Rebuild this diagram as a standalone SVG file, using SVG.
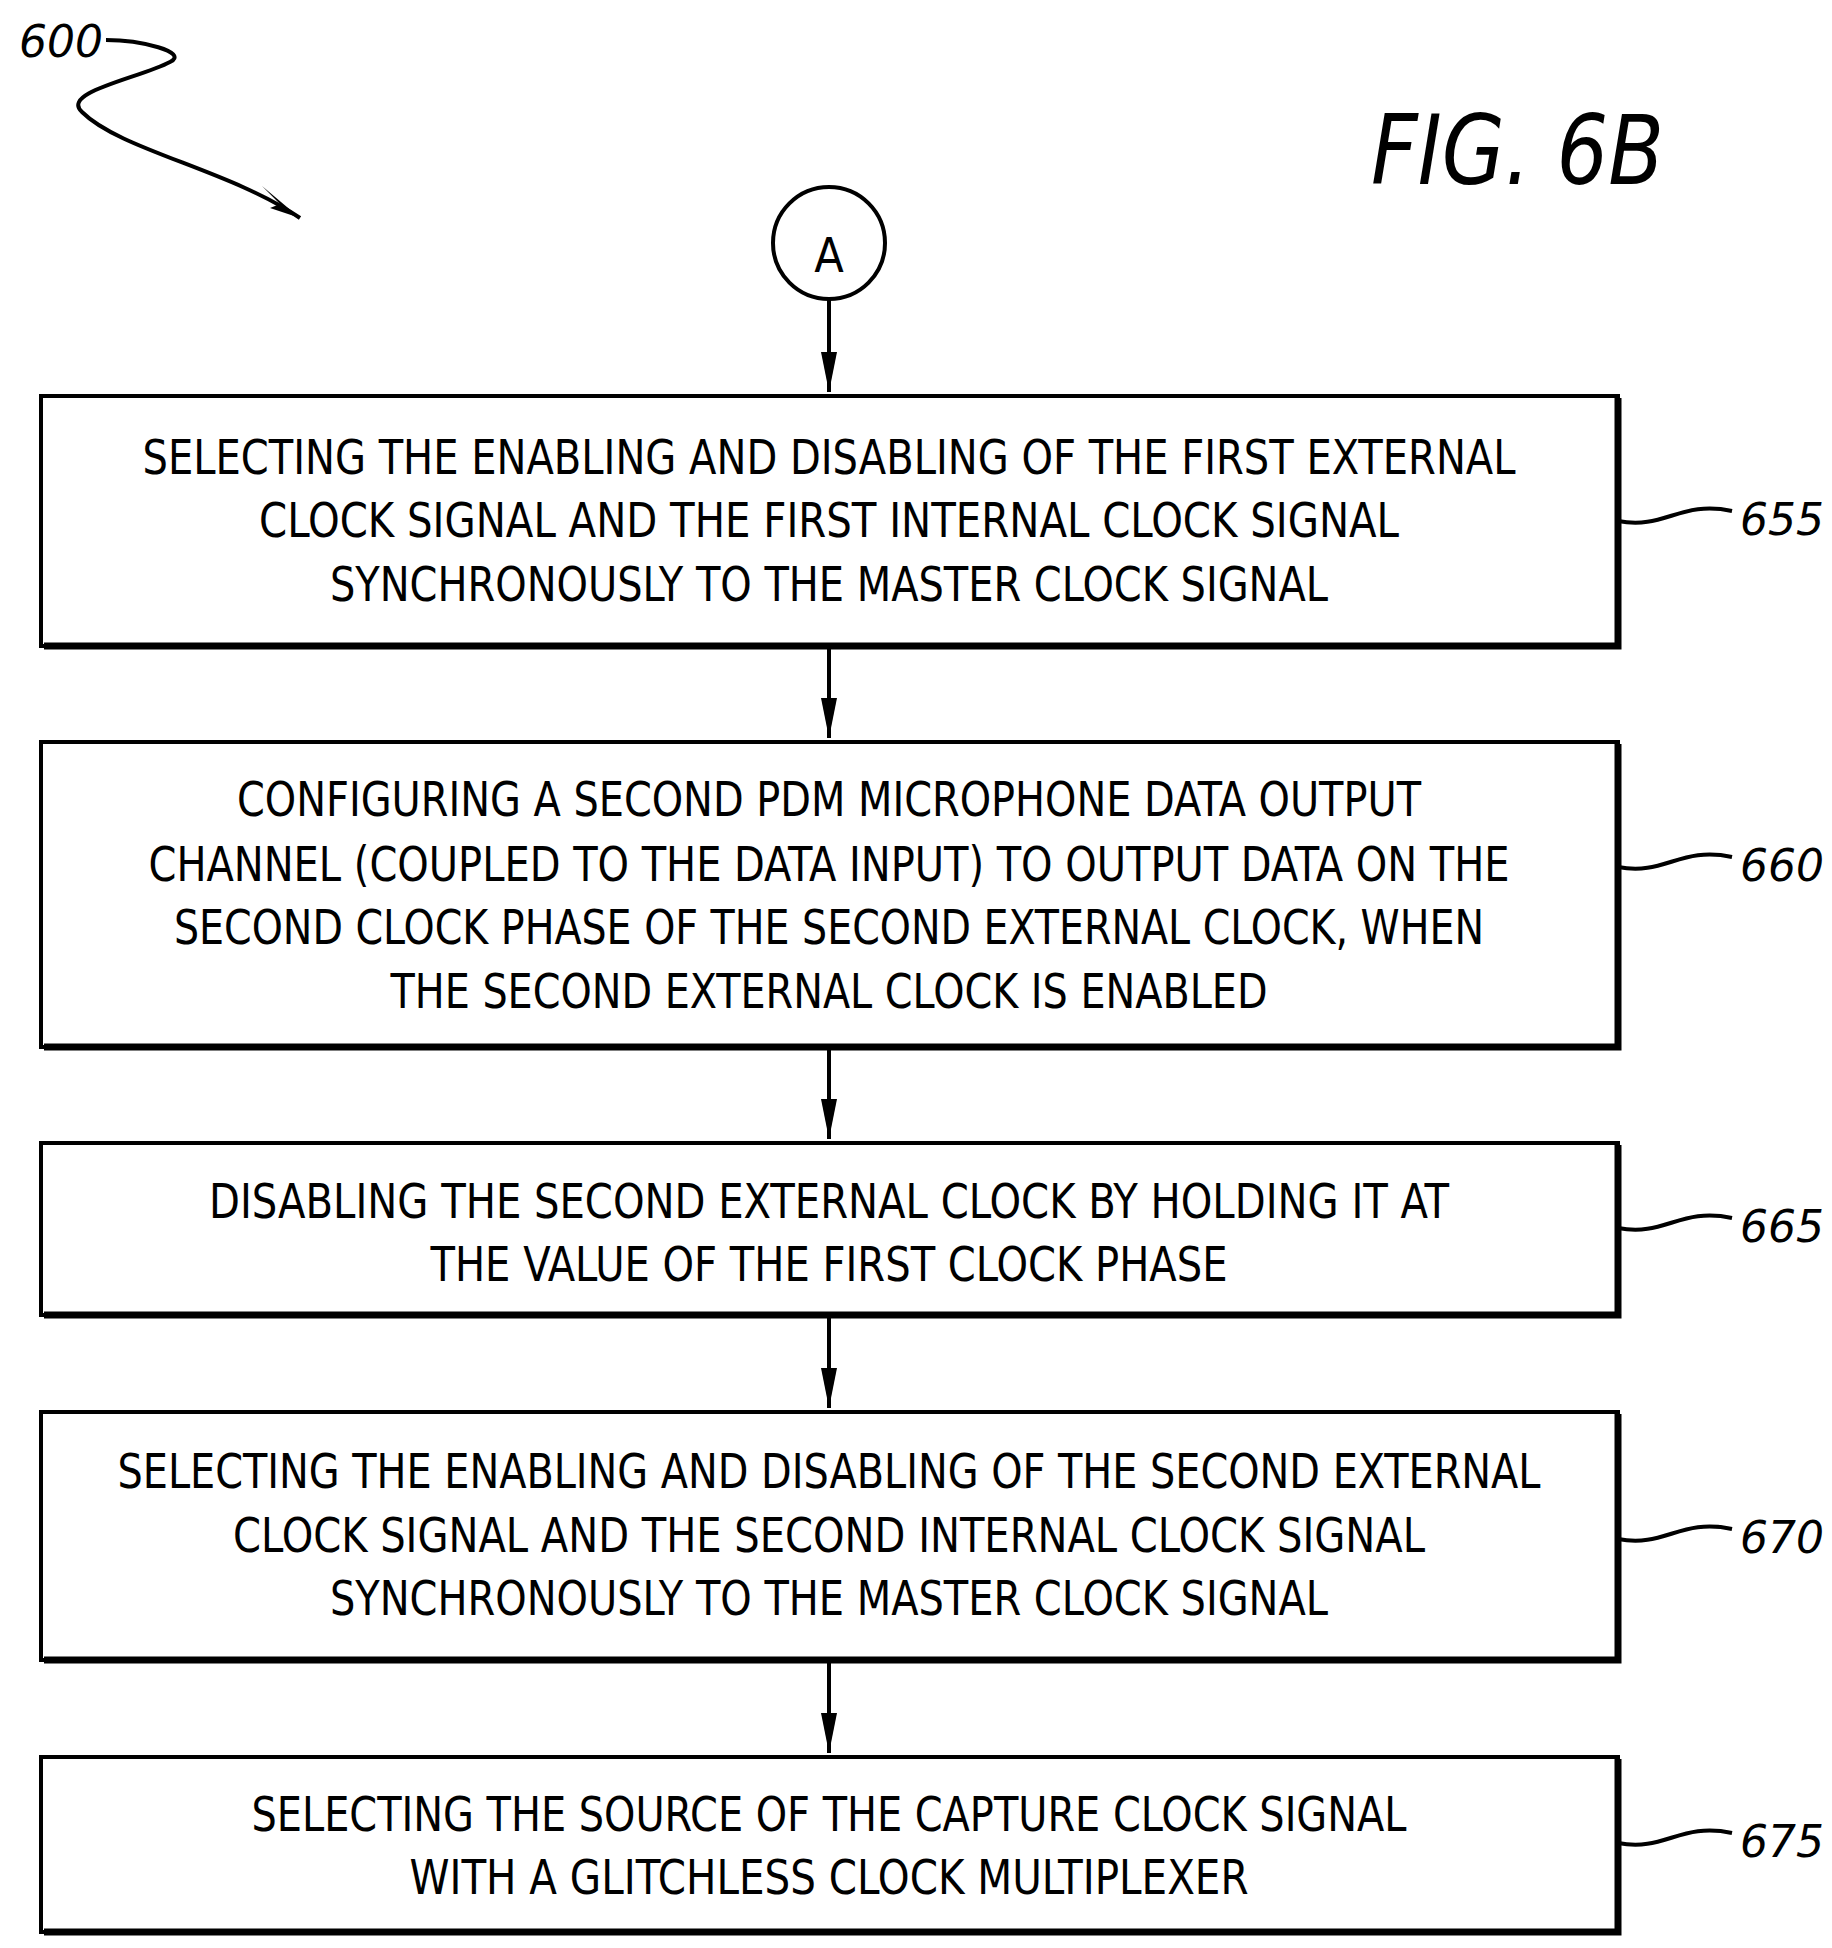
<svg xmlns="http://www.w3.org/2000/svg" width="1832" height="1948" viewBox="0 0 1832 1948">
<style>
.b{fill:#fff;stroke:#000;stroke-width:4}
.s{fill:none;stroke:#000;stroke-width:7}
.t{font-family:"DejaVu Sans Condensed","DejaVu Sans",sans-serif;font-size:48px;text-anchor:middle;fill:#000}
.r{font-family:"DejaVu Sans","Liberation Sans",sans-serif;font-style:italic;font-size:44px;fill:#000}
.w{fill:none;stroke:#000;stroke-width:4}
.c{stroke:#000;stroke-width:4;fill:none}
</style>
<defs><marker id="ah" markerWidth="14" markerHeight="28" refX="7" refY="28" orient="auto-start-reverse" markerUnits="userSpaceOnUse" viewBox="0 0 14 28"><path d="M0,0 L7,28 L14,0 Z" fill="#000" transform="rotate(0)"/></marker>
<marker id="dn" markerWidth="16" markerHeight="40" refX="8" refY="40" orient="0" markerUnits="userSpaceOnUse" viewBox="0 0 16 40"><path d="M0,0 L8,40 L16,0 Z" fill="#000"/></marker></defs>
<text x="19" y="57" class="r" font-size="42">600</text>
<path class="w" d="M106,40 C140,40 190,52 170,62 C140,78 60,92 82,112 C120,150 230,170 300,218"/>
<path d="M300,218 L262,186 L280,204 L270,208 Z" fill="#000"/>
<text x="1371" y="184" font-family="DejaVu Sans Condensed,DejaVu Sans,sans-serif" font-style="italic" font-size="96" textLength="293" lengthAdjust="spacingAndGlyphs">FIG. 6B</text>
<g id="nodeA"><circle cx="829" cy="243" r="56" fill="#fff" stroke="#000" stroke-width="4"/><text x="829" y="272" class="t" font-size="78">A</text></g>
<g id="connectors">
<line class="c" x1="829" y1="299" x2="829" y2="392" marker-end="url(#dn)"/>
<line class="c" x1="829" y1="648" x2="829" y2="738" marker-end="url(#dn)"/>
<line class="c" x1="829" y1="1049" x2="829" y2="1139" marker-end="url(#dn)"/>
<line class="c" x1="829" y1="1317" x2="829" y2="1408" marker-end="url(#dn)"/>
<line class="c" x1="829" y1="1662" x2="829" y2="1753" marker-end="url(#dn)"/>
</g>
<g id="n655"><rect class="b" x="41" y="396" width="1577" height="250"/><path class="s" d="M44,646 H1618 V398"/>
<text class="t" x="829" y="474" textLength="1373" lengthAdjust="spacingAndGlyphs">SELECTING THE ENABLING AND DISABLING OF THE FIRST EXTERNAL</text>
<text class="t" x="829" y="537" textLength="1140" lengthAdjust="spacingAndGlyphs">CLOCK SIGNAL AND THE FIRST INTERNAL CLOCK SIGNAL</text>
<text class="t" x="829" y="601" textLength="998" lengthAdjust="spacingAndGlyphs">SYNCHRONOUSLY TO THE MASTER CLOCK SIGNAL</text>
<path class="w" d="M1618,521 C1665,530 1680,500 1732,511"/><text class="r" x="1740" y="535">655</text></g>
<g id="n660"><rect class="b" x="41" y="742" width="1577" height="305"/><path class="s" d="M44,1047 H1618 V744"/>
<text class="t" x="829" y="816" textLength="1184" lengthAdjust="spacingAndGlyphs">CONFIGURING A SECOND PDM MICROPHONE DATA OUTPUT</text>
<text class="t" x="829" y="881" textLength="1361" lengthAdjust="spacingAndGlyphs">CHANNEL (COUPLED TO THE DATA INPUT) TO OUTPUT DATA ON THE</text>
<text class="t" x="829" y="944" textLength="1310" lengthAdjust="spacingAndGlyphs">SECOND CLOCK PHASE OF THE SECOND EXTERNAL CLOCK, WHEN</text>
<text class="t" x="829" y="1008" textLength="877" lengthAdjust="spacingAndGlyphs">THE SECOND EXTERNAL CLOCK IS ENABLED</text>
<path class="w" d="M1618,867 C1665,876 1680,846 1732,857"/><text class="r" x="1740" y="881">660</text></g>
<g id="n665"><rect class="b" x="41" y="1143" width="1577" height="172"/><path class="s" d="M44,1315 H1618 V1145"/>
<text class="t" x="829" y="1218" textLength="1240" lengthAdjust="spacingAndGlyphs">DISABLING THE SECOND EXTERNAL CLOCK BY HOLDING IT AT</text>
<text class="t" x="829" y="1281" textLength="797" lengthAdjust="spacingAndGlyphs">THE VALUE OF THE FIRST CLOCK PHASE</text>
<path class="w" d="M1618,1228 C1665,1237 1680,1207 1732,1218"/><text class="r" x="1740" y="1242">665</text></g>
<g id="n670"><rect class="b" x="41" y="1412" width="1577" height="248"/><path class="s" d="M44,1660 H1618 V1414"/>
<text class="t" x="829" y="1488" textLength="1423" lengthAdjust="spacingAndGlyphs">SELECTING THE ENABLING AND DISABLING OF THE SECOND EXTERNAL</text>
<text class="t" x="829" y="1552" textLength="1192" lengthAdjust="spacingAndGlyphs">CLOCK SIGNAL AND THE SECOND INTERNAL CLOCK SIGNAL</text>
<text class="t" x="829" y="1615" textLength="998" lengthAdjust="spacingAndGlyphs">SYNCHRONOUSLY TO THE MASTER CLOCK SIGNAL</text>
<path class="w" d="M1618,1539 C1665,1548 1680,1518 1732,1529"/><text class="r" x="1740" y="1553">670</text></g>
<g id="n675"><rect class="b" x="41" y="1757" width="1577" height="175"/><path class="s" d="M44,1932 H1618 V1759"/>
<text class="t" x="829" y="1831" textLength="1155" lengthAdjust="spacingAndGlyphs">SELECTING THE SOURCE OF THE CAPTURE CLOCK SIGNAL</text>
<text class="t" x="829" y="1894" textLength="839" lengthAdjust="spacingAndGlyphs">WITH A GLITCHLESS CLOCK MULTIPLEXER</text>
<path class="w" d="M1618,1843 C1665,1852 1680,1822 1732,1833"/><text class="r" x="1740" y="1857">675</text></g>
</svg>
